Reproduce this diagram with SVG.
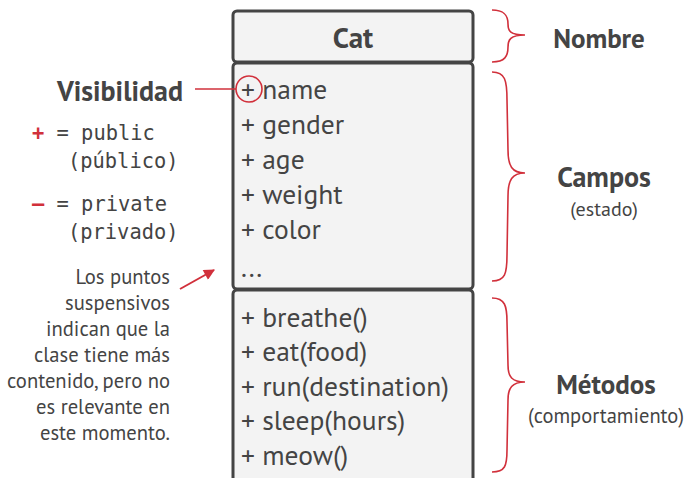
<svg xmlns="http://www.w3.org/2000/svg" width="686" height="478" viewBox="0 0 686 478">
<defs>
<style>
text{font-family:"PT Sans","Noto Sans","Open Sans",sans-serif;fill:#444}
.b{font-weight:bold}
.row{font-size:27.5px}
.mono{font-family:"DejaVu Sans Mono","Liberation Mono",monospace;font-size:20.4px}
.note{font-size:20.6px;text-anchor:end}
.red{fill:#d1303b}
.brace{fill:none;stroke:#d1303b;stroke-width:1.6}
.comp{fill:#f3f3f3;stroke:#444;stroke-width:3}
</style>
<marker id="ah" viewBox="0 0 10 10" refX="9" refY="5" markerWidth="13" markerHeight="11" markerUnits="userSpaceOnUse" orient="auto"><path d="M0,0 L10,5 L0,10 z" fill="#d1303b"/></marker>
</defs>
<rect width="686" height="478" fill="#fff"/>
<g id="class-cat">
<rect class="comp" x="233" y="11" width="240" height="51" rx="4"/>
<rect class="comp" x="233" y="63" width="240" height="226" rx="4"/>
<rect class="comp" x="233" y="290" width="240" height="200" rx="4"/>
<text class="b" x="353" y="48" font-size="29" text-anchor="middle">Cat</text>
<text class="row" x="241" y="99">+ name</text>
<text class="row" x="241" y="134">+ gender</text>
<text class="row" x="241" y="169">+ age</text>
<text class="row" x="241" y="204">+ weight</text>
<text class="row" x="241" y="239">+ color</text>
<text class="row" x="241" y="277">...</text>
<text class="row" x="241" y="327">+ breathe()</text>
<text class="row" x="241" y="361">+ eat(food)</text>
<text class="row" x="241" y="396">+ run(destination)</text>
<text class="row" x="241" y="430">+ sleep(hours)</text>
<text class="row" x="241" y="465">+ meow()</text>
</g>
<g id="visibilidad">
<text class="b" x="183" y="101" font-size="28" text-anchor="end">Visibilidad</text>
<text class="mono" x="32" y="140"><tspan class="red" font-weight="bold">+</tspan> = public</text>
<text class="mono" x="68" y="168">(público)</text>
<text class="mono" x="32" y="211"><tspan class="red" font-weight="bold">–</tspan> = private</text>
<text class="mono" x="68" y="239">(privado)</text>
</g>
<g id="nota">
<text class="note" x="170" y="284">Los puntos</text>
<text class="note" x="170" y="310">suspensivos</text>
<text class="note" x="170" y="336">indican que la</text>
<text class="note" x="170" y="362">clase tiene más</text>
<text class="note" x="170" y="388">contenido, pero no</text>
<text class="note" x="170" y="414">es relevante en</text>
<text class="note" x="170" y="440">este momento.</text>
</g>
<g id="nombre">
<path class="brace" d="M492,10 C505,10 508,16 508,24 C508,31 510,35 525,35 C510,35 508,40 508,47 C508,56 505,62 492,62"/>
<text class="b" x="599" y="48" font-size="27" text-anchor="middle">Nombre</text>
</g>
<g id="campos">
<path class="brace" d="M492,72 C505,72 507,80 507,100 L508,150 C508,166 512,173 525,173 C512,173 508,180 508,196 L507,255 C507,274 505,281 492,281"/>
<text class="b" x="604" y="187" font-size="28" text-anchor="middle">Campos</text>
<text x="604" y="216" font-size="20" text-anchor="middle">(estado)</text>
</g>
<g id="metodos">
<path class="brace" d="M492,298 C505,298 507,306 507,322 L508,365 C508,377 512,382 525,382 C512,382 508,388 508,400 L507,450 C507,466 505,472 492,472"/>
<text class="b" x="606" y="394" font-size="27" text-anchor="middle">Métodos</text>
<text x="606" y="423" font-size="20.5" text-anchor="middle">(comportamiento)</text>
</g>
<g id="connectors">
<line x1="195" y1="89" x2="236" y2="89" stroke="#d1303b" stroke-width="1.6"/>
<circle cx="249" cy="89" r="13" fill="none" stroke="#d1303b" stroke-width="1.6"/>
<line x1="180" y1="289" x2="214" y2="270" stroke="#d1303b" stroke-width="2" marker-end="url(#ah)"/>
</g>
</svg>
